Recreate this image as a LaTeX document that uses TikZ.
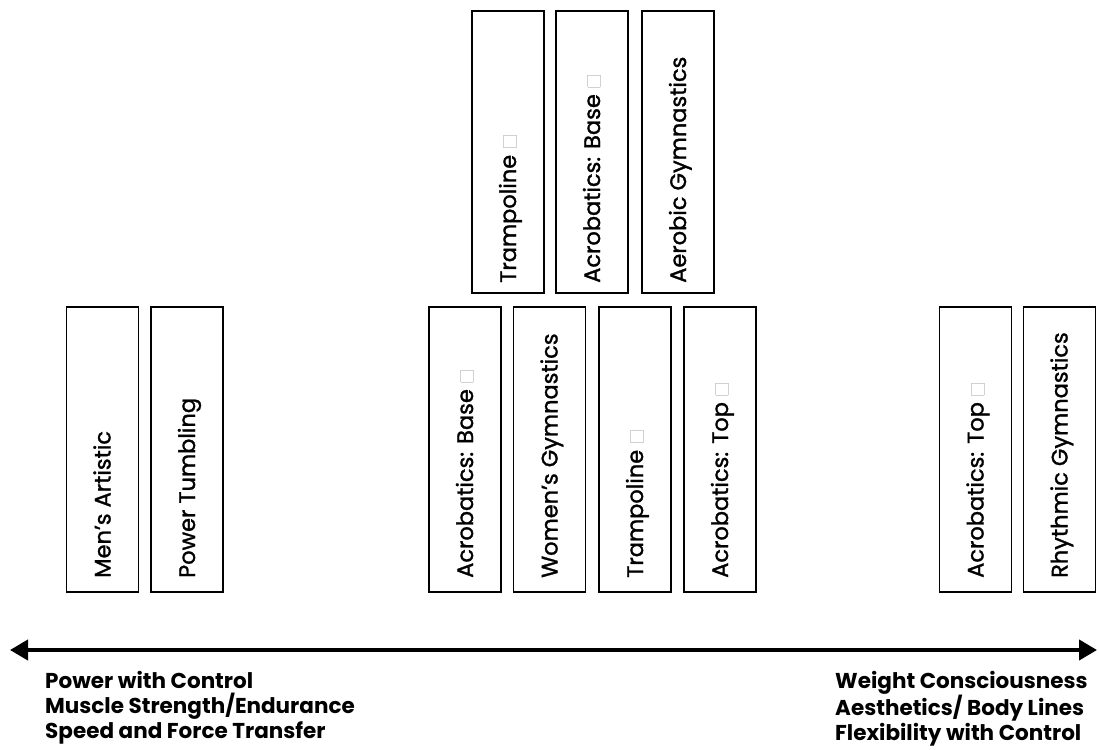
\documentclass[tikz,border=0pt]{standalone}
\usepackage{fontspec}
\setmainfont{Poppins}
\newfontfamily\medfont{Poppins}[RawFeature={embolden=1.3}]
\usetikzlibrary{arrows.meta}
\newcommand\gsq{\hspace{0.3em}{\color{black!18}\setlength\fboxsep{0pt}\setlength\fboxrule{0.8pt}\fbox{\rule{0pt}{12pt}\hspace{11pt}}}}
\tikzset{
  card/.style={draw, line width=1.6pt, minimum width=72pt, inner sep=0pt},
  lab/.style={rotate=90, anchor=base west, inner sep=0pt, font=\medfont\fontsize{22.5}{26}\selectfont},
  note/.style={anchor=north west, align=left, inner sep=0pt, font=\fontsize{21.5}{25}\selectfont\bfseries},
}
\begin{document}
\begin{tikzpicture}[x=1pt,y=-1pt]
\useasboundingbox (0,0) rectangle (1099,749);
% top row
\node[card, minimum height=282pt] (t1) at (508,152) {};
\node[card, minimum height=282pt] (t2) at (592,152) {};
\node[card, minimum height=282pt] (t3) at (678,152) {};
\node[lab] (t1l) at (516,283) {Trampoline\gsq};
\node[lab] (t2l) at (600,283) {Acrobatics: Base\gsq};
\node[lab] (t3l) at (686,283) {Aerobic Gymnastics};
% middle row
\node[card, minimum height=285pt] (m1) at (465,449.5) {};
\node[card, minimum height=285pt] (m2) at (549.5,449.5) {};
\node[card, minimum height=285pt] (m3) at (635,449.5) {};
\node[card, minimum height=285pt] (m4) at (720,449.5) {};
\node[lab] (m1l) at (473,578) {Acrobatics: Base\gsq};
\node[lab] (m2l) at (557.5,578) {Women’s Gymnastics};
\node[lab] (m3l) at (643,578) {Trampoline\gsq};
\node[lab] (m4l) at (728,578) {Acrobatics: Top\gsq};
% left
\node[card, minimum height=285pt] (g1) at (102.5,449.5) {};
\node[card, minimum height=285pt] (g2) at (187,449.5) {};
\node[lab] (g1l) at (110.5,578) {Men’s Artistic};
\node[lab] (g2l) at (195,578) {Power Tumbling};
% right
\node[card, minimum height=285pt] (e1) at (975.5,449.5) {};
\node[card, minimum height=285pt] (e2) at (1059.5,449.5) {};
\node[lab] (e1l) at (983.5,578) {Acrobatics: Top\gsq};
\node[lab] (e2l) at (1067.5,578) {Rhythmic Gymnastics};
% axis
\coordinate (aL) at (10,650);
\coordinate (aR) at (1097,650);
\draw[line width=4pt, {Triangle[length=18pt,width=20pt]}-{Triangle[length=18pt,width=20pt]}] (aL) -- (aR);
\node[note] (left) at (45,671) {Power with Control\\Muscle Strength/Endurance\\Speed and Force Transfer};
\node[note] (right) at (835,671) {Weight Consciousness\\Aesthetics/ Body Lines\\Flexibility with Control};
\end{tikzpicture}
\end{document}
